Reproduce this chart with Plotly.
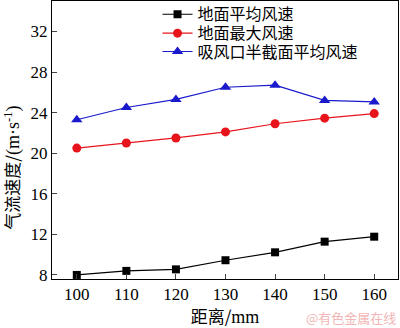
import plotly.graph_objects as go

distance = [100, 110, 120, 130, 140, 150, 160]
ground_avg = [8.0, 8.4, 8.55, 9.45, 10.23, 11.28, 11.77]
ground_max = [20.5, 21.0, 21.5, 22.1, 22.9, 23.45, 23.9]
inlet_half = [23.3, 24.5, 25.3, 26.5, 26.7, 25.2, 25.05]
names = ["地面平均风速", "地面最大风速", "吸风口半截面平均风速"]
y_ticks = [8, 12, 16, 20, 24, 28, 32]
x_ticks = [100, 110, 120, 130, 140, 150, 160]

serif = "Liberation Serif, Times New Roman, serif"
cjk = "Noto Sans CJK SC"

fig = go.Figure()
fig.add_trace(go.Scatter(x=distance, y=ground_avg, name=names[0], mode="lines+markers",
                         legend="legend",
                         line=dict(color="black", width=1.2),
                         marker=dict(symbol="square", size=8, color="black")))
fig.add_trace(go.Scatter(x=distance, y=ground_max, name=names[1], mode="lines+markers",
                         legend="legend2",
                         line=dict(color="#e8141c", width=1.2),
                         marker=dict(symbol="circle", size=9, color="#e8141c")))
fig.add_trace(go.Scatter(x=distance, y=inlet_half, name=names[2], mode="lines+markers",
                         legend="legend3",
                         line=dict(color="#1a1acc", width=1.2),
                         marker=dict(symbol="triangle-up", size=10, color="#1a1acc")))

def leg(yc):
    return dict(x=0.305, y=yc, xanchor="left", yanchor="middle",
                font=dict(family=cjk, size=16, color="black"),
                bgcolor="rgba(0,0,0,0)", itemwidth=30)

fig.update_layout(
    width=400, height=328,
    margin=dict(l=52, r=2, t=1, b=49, autoexpand=False),
    paper_bgcolor="white", plot_bgcolor="white",
    font=dict(family=serif, size=17, color="black"),
    legend=leg(0.952),
    legend2=leg(0.884),
    legend3=leg(0.818),
    xaxis=dict(range=[95, 164.8], tickvals=x_ticks, ticks="inside", ticklen=5,
               showline=True, linecolor="black", linewidth=1, mirror=True,
               showgrid=False, zeroline=False,
               tickfont=dict(family=serif, size=17),
               title=dict(text="距离/<span style='font-family:Liberation Serif;font-size:18px'>mm</span>",
                          font=dict(family=cjk, size=17), standoff=2)),
    yaxis=dict(range=[7.6, 35.0], tickvals=y_ticks, ticks="inside", ticklen=5,
               showline=True, linecolor="black", linewidth=1, mirror=True,
               showgrid=False, zeroline=False,
               tickfont=dict(family=serif, size=17)),
    showlegend=True,
)

fig.add_annotation(text="气流速度/<span style='font-family:Liberation Serif;font-size:18px'>(m·s<sup>-1</sup>)</span>",
                   xref="paper", yref="paper", x=-0.116, y=0.40, textangle=-90,
                   xanchor="center", yanchor="middle", showarrow=False,
                   font=dict(family=cjk, size=17, color="black"))

fig.add_annotation(text="@有色金属在线", xref="paper", yref="paper", x=1.0, y=-0.14,
                   xanchor="right", yanchor="middle", showarrow=False,
                   font=dict(family=cjk, size=13, color="#f2b5b5"))

fig.write_html("out.html")
